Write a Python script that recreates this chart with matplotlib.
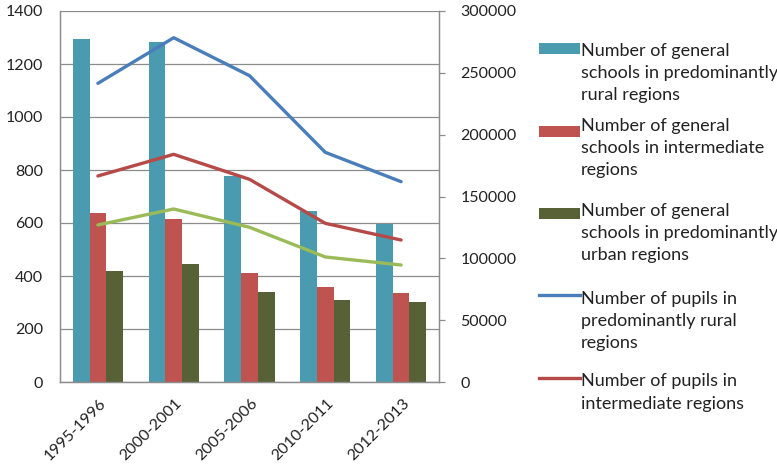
import numpy as np
import matplotlib
matplotlib.use("Agg")
import matplotlib.pyplot as plt
from matplotlib.patches import Rectangle
from matplotlib.lines import Line2D
import matplotlib.transforms as mtransforms

plt.rcParams["font.family"] = ["Lato", "DejaVu Sans"]

periods = ["1995-1996", "2000-2001", "2005-2006", "2010-2011", "2012-2013"]

schools_rural = [1295, 1283, 776, 645, 597]
schools_intermediate = [637, 614, 411, 358, 335]
schools_urban = [419, 447, 338, 311, 303]

pupils_rural = [241500, 278400, 247700, 185700, 162000]
pupils_intermediate = [166600, 184100, 163900, 128300, 114800]
pupils_urban = [127000, 139900, 125100, 101100, 94600]

labels = [
    "Number of general\nschools in predominantly\nrural regions",
    "Number of general\nschools in intermediate\nregions",
    "Number of general\nschools in predominantly\nurban regions",
    "Number of pupils in\npredominantly rural\nregions",
    "Number of pupils in\nintermediate regions",
    "Number of pupils in\npredominantly urban\nregions",
]

bar_colors = ["#4A9AB0", "#BE5350", "#576135"]
line_colors = ["#4A7EBB", "#B54A48", "#9BBB59"]
grid_color = "#8C8C8C"
text_color = "#222222"

W, H = 777, 467
fig = plt.figure(figsize=(W / 100, H / 100), dpi=100)
ax = fig.add_axes([60 / W, 1 - 382 / H, (439 - 60) / W, (382 - 11) / H])
ax2 = ax.twinx()

x = np.arange(len(periods))
bw = 0.22
for k, vals in enumerate([schools_rural, schools_intermediate, schools_urban]):
    ax.bar(x + (k - 1) * bw, vals, width=bw, color=bar_colors[k], zorder=2)

for k, vals in enumerate([pupils_rural, pupils_intermediate, pupils_urban]):
    ax2.plot(x, vals, color=line_colors[k], lw=2.4, solid_capstyle="round",
             solid_joinstyle="round")

ax.set_xlim(-0.5, len(periods) - 0.5)
ax.set_ylim(0, 1400)
ax.set_yticks(np.arange(0, 1401, 200))
ax2.set_ylim(0, 300000)
ax2.set_yticks(np.arange(0, 300001, 50000))

ax.yaxis.grid(True, color=grid_color, lw=0.9, zorder=0)
ax.set_axisbelow(True)
for a in (ax, ax2):
    for s in a.spines.values():
        s.set_color(grid_color)
        s.set_linewidth(0.9)
    a.spines["top"].set_visible(False)

ax.tick_params(axis="y", length=0, pad=12, labelsize=11.5, labelcolor=text_color)
ax2.tick_params(axis="y", length=4.5, width=0.9, color=grid_color, pad=11,
                labelsize=11.5, labelcolor=text_color)
ax.tick_params(axis="x", length=0, pad=14, labelsize=11.5, labelcolor=text_color)
ax.set_xticks(x)
ax.set_xticklabels(periods, rotation=45, ha="right", va="center",
                   rotation_mode="anchor")
offset = mtransforms.ScaledTranslation(6 / 100, 0, fig.dpi_scale_trans)
for lab in ax.get_xticklabels():
    lab.set_transform(lab.get_transform() + offset)

# legend (only first five entries fit inside the picture)
handle_y = [48, 131, 213, 295, 378]
first_base = [53, 128, 213, 301, 385]
step = 23.7
for i in range(5):
    yf = 1 - handle_y[i] / H
    if i < 3:
        fig.add_artist(Rectangle((539 / W, yf - 5.5 / H), 41 / W, 11 / H,
                                 transform=fig.transFigure,
                                 color=bar_colors[i], lw=0))
    else:
        fig.add_artist(Line2D([539 / W, 580 / W], [yf, yf],
                              transform=fig.transFigure,
                              color=line_colors[i - 3], lw=2.4))
    nlines = labels[i].count("\n")
    last_base = first_base[i] + nlines * step
    fig.text(581 / W, 1 - last_base / H, labels[i], fontsize=13,
             va="baseline", ha="left", color=text_color, linespacing=1.48)

fig.savefig("out.png", dpi=100)
